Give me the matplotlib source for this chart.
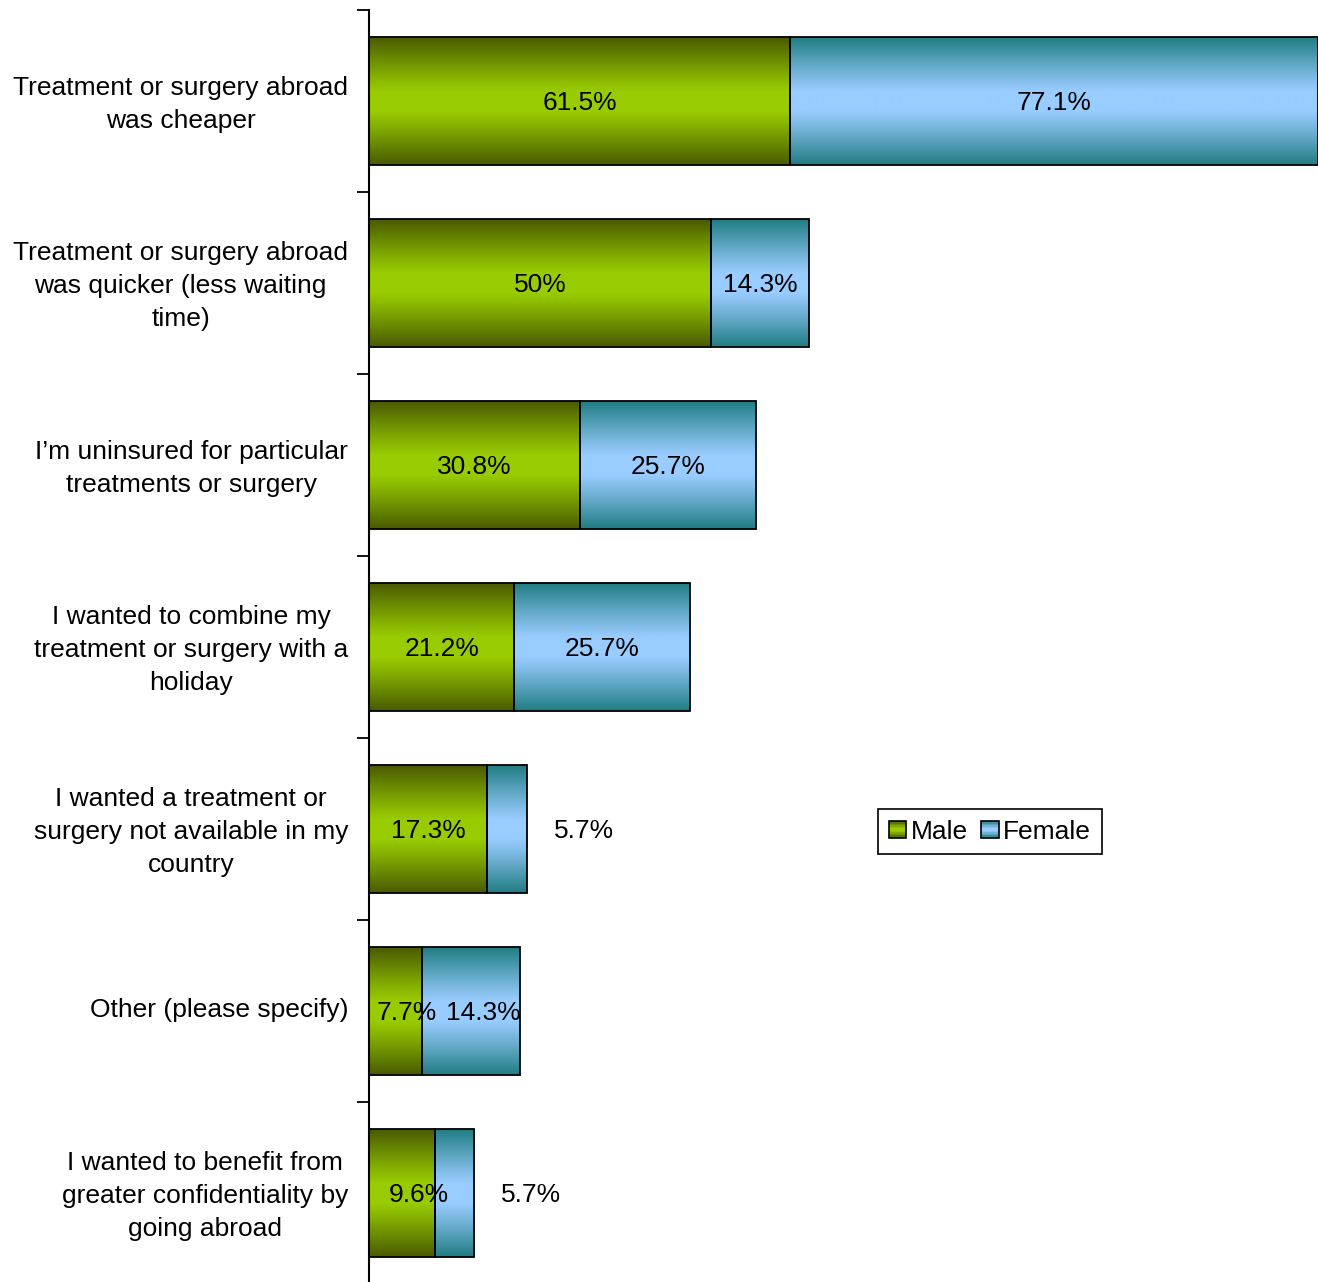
import matplotlib.pyplot as plt
import numpy as np
from matplotlib.legend_handler import HandlerBase
from matplotlib.patches import Rectangle
from matplotlib.transforms import ScaledTranslation

plt.rcParams['font.family'] = ['Liberation Sans', 'DejaVu Sans']

categories = [
    'Treatment or surgery abroad\nwas cheaper',
    'Treatment or surgery abroad\nwas quicker (less waiting\ntime)',
    'I\u2019m uninsured for particular\ntreatments or surgery',
    'I wanted to combine my\ntreatment or surgery with a\nholiday',
    'I wanted a treatment or\nsurgery not available in my\ncountry',
    'Other (please specify)',
    'I wanted to benefit from\ngreater confidentiality by\ngoing abroad',
]
male = [61.5, 50, 30.8, 21.2, 17.3, 7.7, 9.6]
female = [77.1, 14.3, 25.7, 25.7, 5.7, 14.3, 5.7]
male_labels = ['61.5%', '50%', '30.8%', '21.2%', '17.3%', '7.7%', '9.6%']
female_labels = ['77.1%', '14.3%', '25.7%', '25.7%', '5.7%', '14.3%', '5.7%']

green_dark = np.array([0x4a, 0x5c, 0x00]) / 255
green_light = np.array([0x99, 0xcc, 0x00]) / 255
blue_dark = np.array([0x22, 0x7e, 0x84]) / 255
blue_light = np.array([0x99, 0xcc, 0xff]) / 255

FS = 19


def gradient(dark, light, n=64):
    t = np.abs(np.linspace(-1, 1, n))
    f = np.clip((t - 0.15) / 0.85, 0, 1) ** 1.1
    rgb = light[None, :] * (1 - f[:, None]) + dark[None, :] * f[:, None]
    return rgb[:, None, :]


grad_m = gradient(green_dark, green_light)
grad_f = gradient(blue_dark, blue_light)


class GradHandler(HandlerBase):
    def __init__(self, dark, light):
        super().__init__()
        self.dark = dark
        self.light = light

    def create_artists(self, legend, orig_handle, xdescent, ydescent,
                       width, height, fontsize, trans):
        side = height * 0.95
        x0 = xdescent + (width - side) / 2
        y0 = -ydescent + (height - side) / 2
        g = gradient(self.dark, self.light, n=12)[:, 0, :]
        arts = []
        n = len(g)
        for i, c in enumerate(g):
            arts.append(Rectangle((x0, y0 + side * (n - 1 - i) / n), side, side / n,
                                  facecolor=c, edgecolor='none', transform=trans))
        arts.append(Rectangle((x0, y0), side, side, facecolor='none',
                              edgecolor='black', lw=1.2, transform=trans))
        return arts


fig = plt.figure(figsize=(13.18, 12.82), dpi=100)
ax = fig.add_axes([0.28, -0.0016, 0.72, 0.9938])

y = np.arange(len(categories))
h = 0.70
bars_m = ax.barh(y, male, height=h, facecolor='none', edgecolor='black', lw=1.3, zorder=3,
                 label='Male')
bars_f = ax.barh(y, female, height=h, left=male, facecolor='none', edgecolor='black', lw=1.3,
                 zorder=3, label='Female')

for bars, grad in [(bars_m, grad_m), (bars_f, grad_f)]:
    for b in bars:
        x0, y0 = b.get_x(), b.get_y()
        ax.imshow(grad, extent=[x0, x0 + b.get_width(), y0 + b.get_height(), y0],
                  aspect='auto', zorder=2, interpolation='bilinear')

# Excel nudges the labels of the narrow segments a little to the right
nudge_m = {5: 11, 6: 17}
nudge_f = {5: 13}
for i in range(len(categories)):
    off = ScaledTranslation(nudge_m.get(i, 0) / 100, -0.02, fig.dpi_scale_trans)
    ax.text(male[i] / 2, y[i], male_labels[i], ha='center', va='center', fontsize=FS,
            zorder=4, transform=ax.transData + off)
    off = ScaledTranslation(nudge_f.get(i, 0) / 100, -0.02, fig.dpi_scale_trans)
    if female[i] < 6:
        ax.text(male[i] + female[i] + 4, y[i], female_labels[i], ha='left', va='center',
                fontsize=FS, zorder=4, transform=ax.transData + off)
    else:
        ax.text(male[i] + female[i] / 2, y[i], female_labels[i], ha='center', va='center',
                fontsize=FS, zorder=4, transform=ax.transData + off)

ax.set_xlim(0, 138.6)
ax.set_ylim(len(categories) - 0.5, -0.5)

ax.set_yticks(y)
ax.set_yticklabels(categories, fontsize=FS, linespacing=1.48, multialignment='center')
ax.set_yticks(np.arange(len(categories) + 1) - 0.5, minor=True)
ax.tick_params(axis='y', which='major', length=0, pad=15)
ax.tick_params(axis='y', which='minor', length=9, width=1.3, color='black')
ax.set_xticks([])
up = ScaledTranslation(0, 0.04, fig.dpi_scale_trans)
for lab in ax.get_yticklabels():
    lab.set_transform(lab.get_transform() + up)

for s in ['top', 'right', 'bottom']:
    ax.spines[s].set_visible(False)
ax.spines['left'].set_linewidth(1.5)

leg = ax.legend(handles=[bars_m, bars_f], labels=['Male', 'Female'],
                handler_map={bars_m: GradHandler(green_dark, green_light),
                             bars_f: GradHandler(blue_dark, blue_light)},
                loc='center', bbox_to_anchor=(0.654, 0.355), ncol=2, fontsize=FS,
                frameon=True, fancybox=False, edgecolor='black', framealpha=1,
                handlelength=0.7, handletextpad=0.15, columnspacing=0.5,
                borderpad=0.4)
leg.get_frame().set_linewidth(1.2)

fig.savefig('out.png', dpi=100)
